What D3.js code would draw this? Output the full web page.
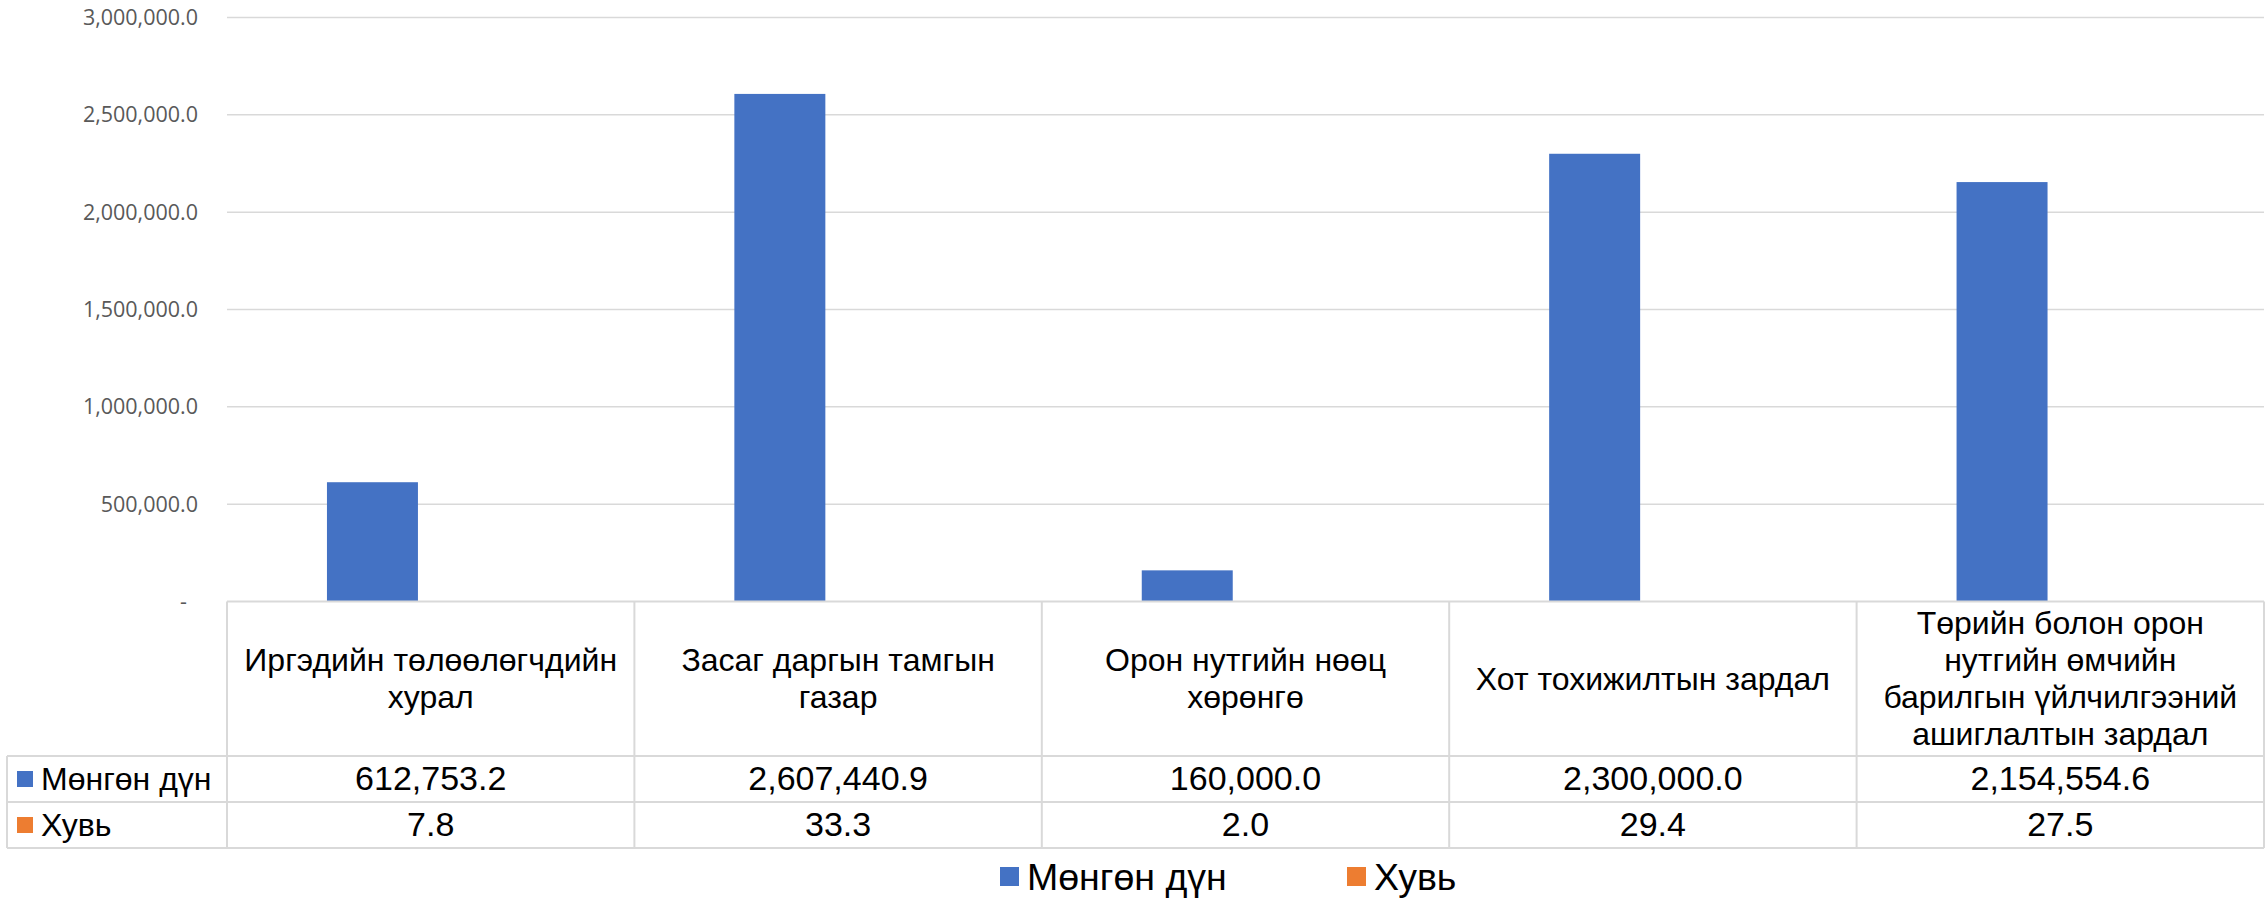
<!DOCTYPE html>
<html lang="mn">
  <head>
    <meta charset="utf-8" />
    <title>Мөнгөн дүн ба хувь</title>
    <script src="https://d3js.org/d3.v7.min.js"></script>
    <style>
      body { margin: 0; background: #fff; }
      svg { display: block; }
      .tick-label { font-family: "Open Sans", "DejaVu Sans", sans-serif; font-size: 21.5px; fill: #595959; }
      .tbl { font-family: "Liberation Sans", Arial, sans-serif; font-size: 32px; fill: #000; }
      .tbl.num { font-size: 34px; }
      .legend-text { font-family: "Liberation Sans", Arial, sans-serif; font-size: 37.5px; fill: #000; }
    </style>
  </head>
  <body>
    <div id="chart"></div>
    <script>
      // data
      var categories = [
        "Иргэдийн төлөөлөгчдийн\nхурал",
        "Засаг даргын тамгын\nгазар",
        "Орон нутгийн нөөц\nхөрөнгө",
        "Хот тохижилтын зардал",
        "Төрийн болон орон\nнутгийн өмчийн\nбарилгын үйлчилгээний\nашиглалтын зардал"
      ];
      var amounts = [612753.2, 2607440.9, 160000.0, 2300000.0, 2154554.6];
      var shares = [7.8, 33.3, 2.0, 29.4, 27.5];
      var seriesNames = ["Мөнгөн дүн", "Хувь"];
      var seriesColors = ["#4472C4", "#ED7D31"];
      var yTicks = [0, 500000, 1000000, 1500000, 2000000, 2500000, 3000000];
      var yTickLabels = ["-", "500,000.0", "1,000,000.0", "1,500,000.0", "2,000,000.0", "2,500,000.0", "3,000,000.0"];

      var width = 2267;
      var height = 898;
      var plotLeft = 227, plotRight = 2264, plotTop = 17.5, plotBottom = 601.5;
      var tableLeft = 7;
      var headerBottom = 756, row1Bottom = 802, row2Bottom = 848;
      var gridColor = "#d9d9d9";
      var fs = 31, lineH = 37, cap = fs * 0.716;

      var series = [amounts, shares];
      var fmt = d3.format(",.1f");

      var svg = d3.select("#chart").append("svg")
        .attr("width", width)
        .attr("height", height);

      var y = d3.scaleLinear().domain([0, 3000000]).range([plotBottom, plotTop]);
      var x = d3.scaleBand().domain(d3.range(categories.length)).range([plotLeft, plotRight]);
      var xs = d3.scaleBand().domain(seriesNames).range([0, x.bandwidth()])
        .paddingInner(0.219).paddingOuter(0.858);

      // gridlines
      svg.append("g").selectAll("line")
        .data(yTicks.slice(1))
        .enter().append("line")
        .attr("x1", plotLeft).attr("x2", plotRight)
        .attr("y1", function (d) { return y(d); })
        .attr("y2", function (d) { return y(d); })
        .attr("stroke", gridColor).attr("stroke-width", 1.5);

      // tick labels
      svg.append("g").selectAll("text")
        .data(yTicks)
        .enter().append("text")
        .attr("class", "tick-label")
        .attr("text-anchor", "end")
        .attr("x", function (d) { return d === 0 ? 187 : 198; })
        .attr("y", function (d) { return y(d) + 7.5; })
        .text(function (d, i) { return yTickLabels[i]; });

      // bars
      series.forEach(function (vals, si) {
        svg.append("g").selectAll("rect")
          .data(vals)
          .enter().append("rect")
          .attr("x", function (d, i) { return x(i) + xs(seriesNames[si]); })
          .attr("width", xs.bandwidth())
          .attr("y", function (d) { return y(d); })
          .attr("height", function (d) { return y(0) - y(d); })
          .attr("fill", seriesColors[si]);
      });

      // data table
      var tbl = svg.append("g");
      var line = function (x1, y1, x2, y2) {
        tbl.append("line")
          .attr("x1", x1).attr("y1", y1).attr("x2", x2).attr("y2", y2)
          .attr("stroke", gridColor).attr("stroke-width", 2);
      };
      line(plotLeft, plotBottom, plotRight, plotBottom);
      line(tableLeft, headerBottom, plotRight, headerBottom);
      line(tableLeft, row1Bottom, plotRight, row1Bottom);
      line(tableLeft, row2Bottom, plotRight, row2Bottom);
      line(tableLeft, headerBottom, tableLeft, row2Bottom);
      d3.range(categories.length + 1).forEach(function (i) {
        var xx = i < categories.length ? x(i) : plotRight;
        line(xx, plotBottom, xx, row2Bottom);
      });

      // header text
      var headerMid = (plotBottom + headerBottom) / 2;
      categories.forEach(function (c, i) {
        var lines = c.split("\n");
        var first = headerMid - (lines.length - 1) * lineH / 2 + cap / 2;
        var t = tbl.append("text")
          .attr("class", "tbl")
          .attr("text-anchor", "middle");
        lines.forEach(function (l, k) {
          t.append("tspan")
            .attr("x", x(i) + x.bandwidth() / 2)
            .attr("y", first + k * lineH)
            .text(l);
        });
      });

      // series rows
      var rowTops = [headerBottom, row1Bottom];
      var rowBottoms = [row1Bottom, row2Bottom];
      series.forEach(function (vals, si) {
        var base = (rowTops[si] + rowBottoms[si]) / 2 + cap / 2;
        tbl.append("rect")
          .attr("x", 17).attr("y", (rowTops[si] + rowBottoms[si]) / 2 - 8)
          .attr("width", 16).attr("height", 16)
          .attr("fill", seriesColors[si]);
        tbl.append("text")
          .attr("class", "tbl")
          .attr("x", 41).attr("y", base)
          .text(seriesNames[si]);
        tbl.append("g").selectAll("text")
          .data(vals)
          .enter().append("text")
          .attr("class", "tbl num")
          .attr("text-anchor", "middle")
          .attr("x", function (d, i) { return x(i) + x.bandwidth() / 2; })
          .attr("y", base)
          .text(function (d) { return fmt(d); });
      });

      // legend
      var legendX = [1000, 1347];
      var legend = svg.append("g").selectAll("g")
        .data(seriesNames)
        .enter().append("g")
        .attr("transform", function (d, i) { return "translate(" + legendX[i] + ",867)"; });
      legend.append("rect")
        .attr("width", 19).attr("height", 19)
        .attr("fill", function (d, i) { return seriesColors[i]; });
      legend.append("text")
        .attr("class", "legend-text")
        .attr("x", 27).attr("y", 23)
        .text(function (d) { return d; });
    </script>
  </body>
</html>
